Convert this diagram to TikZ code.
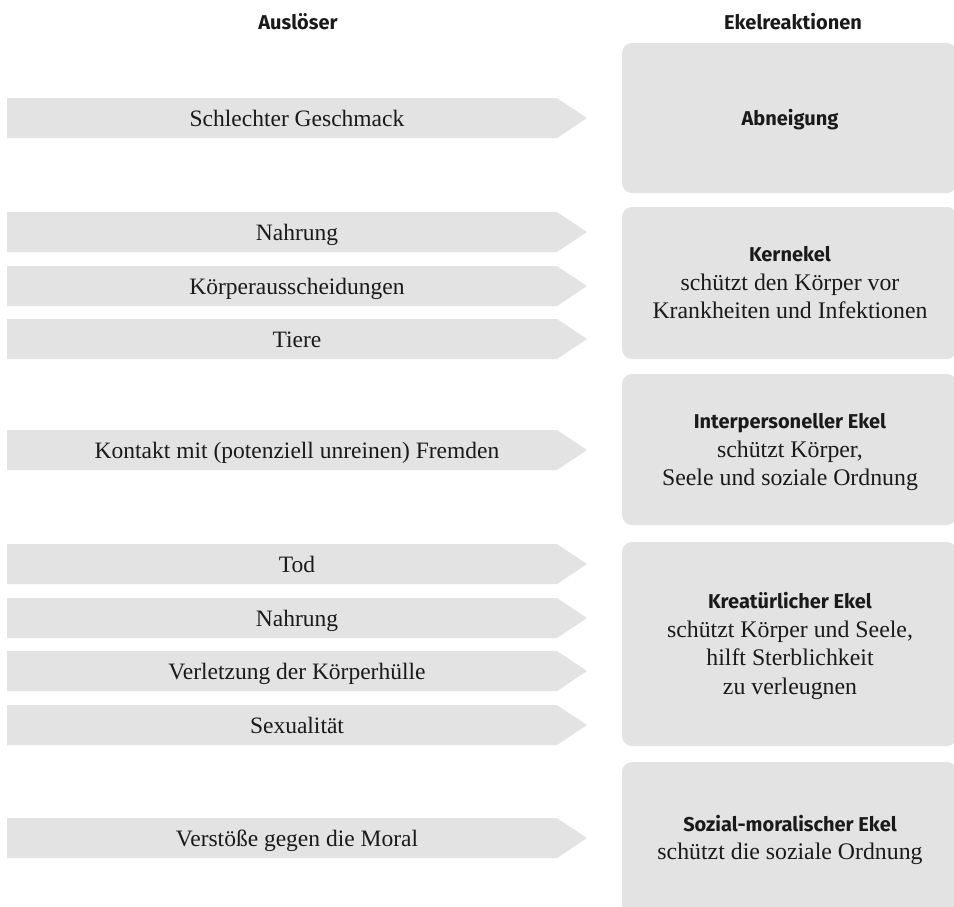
\documentclass[tikz,border=0pt]{standalone}
\usepackage{fontspec}
\setmainfont{Liberation Serif}
\newfontfamily\hdrfont{Fira Sans}
\definecolor{boxgray}{HTML}{E3E3E3}
\definecolor{ink}{HTML}{1A1A1A}
\tikzset{
  x=1pt, y=-1pt,
  arrtext/.style={anchor=base, inner sep=0pt, text=ink, font=\fontsize{23.5}{28}\selectfont},
  boxtext/.style={align=center, inner sep=0pt, text=ink, font=\fontsize{23.8}{28.5}\selectfont},
  headtext/.style={inner sep=0pt, text=ink, font=\hdrfont\bfseries\fontsize{20}{24}\selectfont},
  reactbox/.style={fill=boxgray, rounded corners=10pt},
}
\newcommand\hd[1]{{\hdrfont\bfseries\fontsize{20}{24}\selectfont #1}}
\newcommand\trigger[3]{%
  \fill[boxgray] (7,#2) -- (557,#2) -- (587,#2+20) -- (557,#2+40) -- (7,#2+40) -- cycle;
  \node[arrtext] (#1) at (297,#2+28) {#3};}
\begin{document}
\begin{tikzpicture}
\useasboundingbox (0,0) rectangle (954,906);
\begin{scope}
\clip (0,0) rectangle (954,906);
% headers
\node[headtext] (hleft) at (298,22) {Auslöser};
\node[headtext] (hright) at (793,22) {Ekelreaktionen};
% reaction boxes
\fill[reactbox] (622,43) rectangle (957,193);
\fill[reactbox] (622,207) rectangle (957,359);
\fill[reactbox] (622,374) rectangle (957,525);
\fill[reactbox] (622,542) rectangle (957,746);
\fill[reactbox] (622,762) rectangle (957,930);
\node[boxtext] (r1) at (790,120) {\hd{Abneigung}};
\node[boxtext] (r2) at (790,283) {\hd{Kernekel}\\schützt den Körper vor\\Krankheiten und Infektionen};
\node[boxtext] (r3) at (790,452) {\hd{Interpersoneller Ekel}\\schützt Körper,\\Seele und soziale Ordnung};
\node[boxtext] (r4) at (790,646) {\hd{Kreatürlicher Ekel}\\schützt Körper und Seele,\\hilft Sterblichkeit\\zu verleugnen};
\node[boxtext] (r5) at (790,840) {\hd{Sozial-moralischer Ekel}\\schützt die soziale Ordnung};
% triggers
\trigger{t1}{98}{Schlechter Geschmack}
\trigger{t2}{212}{Nahrung}
\trigger{t3}{266}{Körperausscheidungen}
\trigger{t4}{319}{Tiere}
\trigger{t5}{430}{Kontakt mit (potenziell unreinen) Fremden}
\trigger{t6}{544}{Tod}
\trigger{t7}{598}{Nahrung}
\trigger{t8}{651}{Verletzung der Körperhülle}
\trigger{t9}{705}{Sexualität}
\trigger{t10}{818}{Verstöße gegen die Moral}
\end{scope}
\end{tikzpicture}
\end{document}
